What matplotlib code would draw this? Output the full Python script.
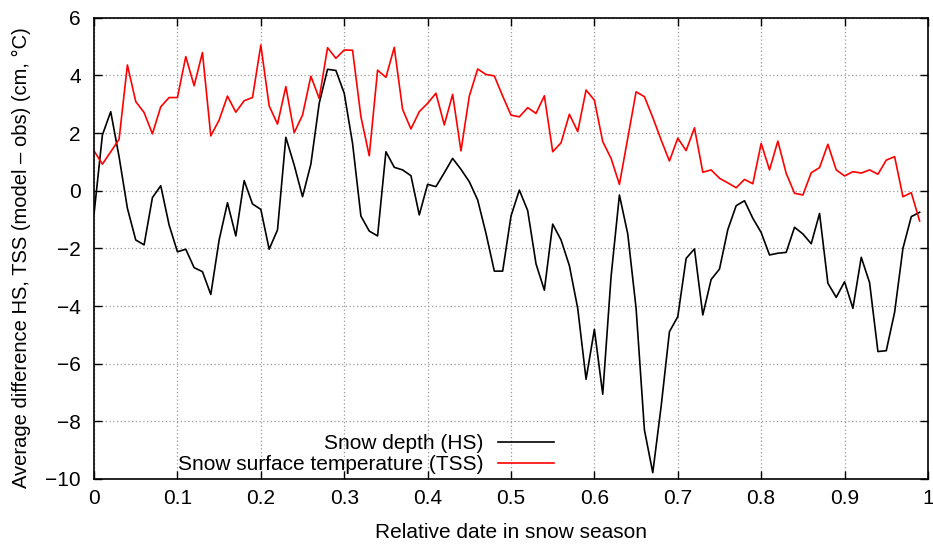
import matplotlib
matplotlib.use("Agg")
import matplotlib.pyplot as plt
import numpy as np

plt.rcParams['font.family'] = ['Liberation Sans', 'DejaVu Sans']

rel_date = [i / 100 for i in range(100)]

hs = [-0.8, 1.93, 2.74, 1.18, -0.61, -1.71, -1.88, -0.24, 0.17, -1.19,
      -2.12, -2.03, -2.67, -2.81, -3.60, -1.71, -0.42, -1.57, 0.35, -0.46,
      -0.65, -2.03, -1.36, 1.85, 0.89, -0.21, 0.92, 3.03, 4.21, 4.17,
      3.38, 1.64, -0.88, -1.40, -1.57, 1.35, 0.81, 0.72, 0.52, -0.84,
      0.22, 0.14, 0.62, 1.12, 0.74, 0.31, -0.32, -1.48, -2.79, -2.79,
      -0.88, 0.02, -0.69, -2.54, -3.45, -1.16, -1.71, -2.60, -4.08, -6.54,
      -4.81, -7.06, -2.98, -0.15, -1.50, -4.08, -8.30, -9.78, -7.49, -4.89,
      -4.37, -2.35, -2.02, -4.31, -3.08, -2.72, -1.35, -0.52, -0.35, -0.96,
      -1.45, -2.23, -2.17, -2.14, -1.27, -1.50, -1.84, -0.79, -3.21, -3.70,
      -3.16, -4.08, -2.31, -3.19, -5.58, -5.55, -4.22, -2.00, -0.90, -0.75]

tss = [1.38, 0.92, 1.35, 1.78, 4.36, 3.09, 2.71, 1.97, 2.91, 3.23,
       3.23, 4.65, 3.64, 4.79, 1.90, 2.45, 3.28, 2.72, 3.12, 3.23,
       5.05, 2.94, 2.31, 3.61, 2.01, 2.62, 3.97, 3.20, 4.96, 4.59,
       4.88, 4.87, 2.57, 1.21, 4.18, 3.93, 4.97, 2.82, 2.14, 2.74,
       3.03, 3.38, 2.28, 3.34, 1.38, 3.28, 4.22, 4.03, 3.98, 3.28,
       2.62, 2.56, 2.88, 2.68, 3.29, 1.35, 1.66, 2.65, 2.05, 3.49,
       3.14, 1.70, 1.12, 0.22, 1.82, 3.43, 3.26, 2.54, 1.76, 1.03,
       1.82, 1.39, 2.18, 0.64, 0.72, 0.43, 0.27, 0.10, 0.39, 0.24,
       1.64, 0.72, 1.72, 0.60, -0.09, -0.15, 0.62, 0.80, 1.61, 0.72,
       0.51, 0.66, 0.61, 0.72, 0.57, 1.06, 1.18, -0.21, -0.07, -1.05]

xticks = [0, 0.1, 0.2, 0.3, 0.4, 0.5, 0.6, 0.7, 0.8, 0.9, 1]
xticklabels = ['0', '0.1', '0.2', '0.3', '0.4', '0.5', '0.6', '0.7', '0.8', '0.9', '1']
yticks = [-10, -8, -6, -4, -2, 0, 2, 4, 6]
yticklabels = ['\u221210', '\u22128', '\u22126', '\u22124', '\u22122', '0', '2', '4', '6']

W, H = 933, 544
fig = plt.figure(figsize=(W / 100, H / 100), dpi=100)
ax = fig.add_axes([0.1008, 0.1195, 0.8938, 0.848])

ax.plot(rel_date, hs, color='black', lw=1.2, label='Snow depth (HS)')
ax.plot(rel_date, tss, color='#ff0000', lw=1.2, label='Snow surface temperature (TSS)')

ax.set_xlim(0, 1)
ax.set_ylim(-10, 6)
ax.set_xticks(xticks)
ax.set_xticklabels(xticklabels)
ax.set_yticks(yticks)
ax.set_yticklabels(yticklabels)
ax.tick_params(direction='in', length=6, width=1, top=True, right=True,
               labelsize=15)
ax.tick_params(axis='x', pad=7.5)
ax.tick_params(axis='y', pad=9.5)
ax.grid(True, linestyle=(0, (1, 2)), color='#999999', lw=0.9)
for s in ax.spines.values():
    s.set_linewidth(1.2)

fig.text(511 / W, 1 - 538 / H, 'Relative date in snow season', fontsize=15,
         ha='center', va='baseline')
fig.text(26.7 / W, 1 - 258 / H, 'Average difference HS, TSS (model \u2013 obs) (cm, \u00b0C)',
         fontsize=14.5, rotation=90, rotation_mode='anchor', ha='center', va='baseline')

leg = ax.legend(loc='lower right', bbox_to_anchor=(0.5516, 0.0106), frameon=False,
                markerfirst=False, fontsize=15, handlelength=2.7, handletextpad=0.67,
                borderaxespad=0.0, borderpad=0.0, labelspacing=0.08)
for t in leg.get_texts():
    t.set_ha('right')

fig.savefig('out.png', dpi=100)
